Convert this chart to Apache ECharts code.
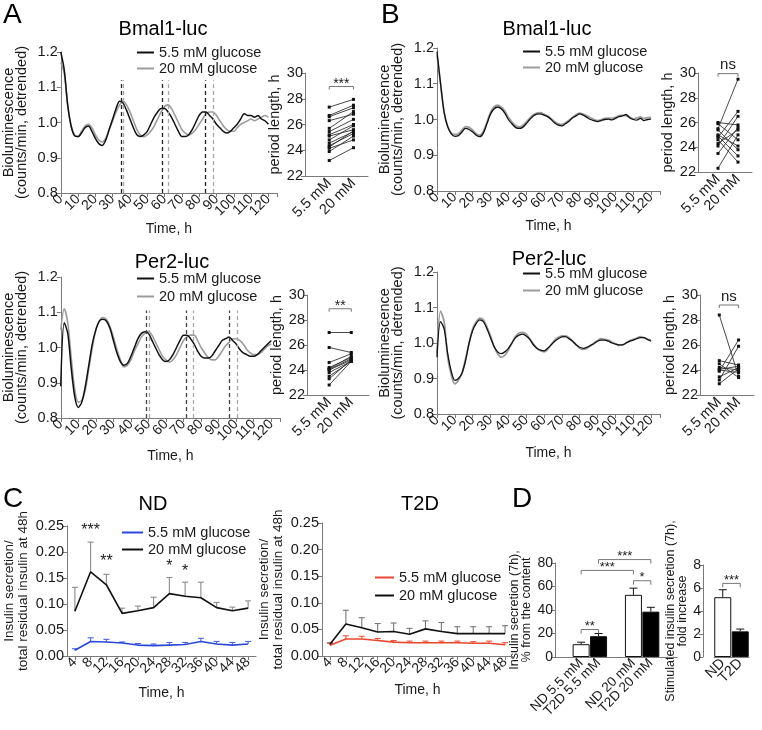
<!DOCTYPE html>
<html><head><meta charset="utf-8">
<script src="https://cdn.jsdelivr.net/npm/echarts@6/dist/echarts.min.js"></script>
<style>html,body{margin:0;padding:0;background:#fff}#c{width:762px;height:730px}</style>
</head><body><div id="c"></div>
<script>
// ---------------- DATA ----------------
const timeH = [0,2,4,6,8,10,12,14,16,18,20,22,24,26,28,30,32,34,36,38,40,42,44,46,48,50,52,54,56,58,60,62,64,66,68,70,72,74,76,78,80,82,84,86,88,90,92,94,96,98,100,102,104,106,108,110,112,114,116,118,120];
const timeTicks = [0,10,20,30,40,50,60,70,80,90,100,110,120];
const timeMax = 125;

// Panel A, Bmal1-luc
const aBmal55 = [1.20,1.15,1.05,0.99,0.962,0.96,0.97,0.985,0.99,0.975,
 0.955,0.94,0.935,0.95,0.98,1.01,1.04,1.06,1.055,1.035,
 1.01,0.985,0.965,0.96,0.965,0.975,0.995,1.015,1.03,1.04,
 1.04,1.03,1.015,0.995,0.975,0.96,0.96,0.965,0.98,1.0,
 1.02,1.03,1.03,1.02,1.01,0.995,0.985,0.975,0.97,0.975,
 0.985,0.995,1.01,1.025,1.02,1.02,1.015,1.02,1.01,1.005,
 0.995];
const aBmal20 = [1.17,1.14,1.05,0.99,0.965,0.96,0.975,0.99,0.995,0.985,
 0.965,0.95,0.945,0.955,0.98,1.005,1.03,1.05,1.06,1.05,
 1.03,1.005,0.98,0.965,0.96,0.965,0.975,0.99,1.01,1.03,
 1.045,1.05,1.04,1.02,1.0,0.98,0.97,0.965,0.97,0.98,
 0.995,1.01,1.025,1.03,1.03,1.02,1.005,0.99,0.98,0.975,
 0.975,0.985,0.995,1.0,1.005,1.01,1.005,1.01,1.015,1.02,
 1.015];
const aBmalPeaks55 = [34.7, 58.6, 83.6];
const aBmalPeaks20 = [36.1, 62.3, 88.3];

// Panel A, Per2-luc
const aPer55 = [0.89,1.07,1.04,0.94,0.86,0.83,0.845,0.89,0.95,1.01,
 1.05,1.075,1.08,1.075,1.055,1.02,0.985,0.96,0.95,0.955,
 0.975,1.0,1.025,1.04,1.045,1.04,1.02,1.0,0.98,0.965,
 0.96,0.965,0.98,1.0,1.02,1.035,1.035,1.025,1.01,0.99,
 0.975,0.97,0.97,0.975,0.99,1.005,1.02,1.025,1.03,1.02,
 1.01,0.995,0.985,0.98,0.975,0.975,0.98,0.99,1.0,1.01,
 1.02];
const aPer20 = [1.05,1.11,1.07,0.97,0.88,0.845,0.85,0.88,0.94,1.0,
 1.05,1.075,1.085,1.08,1.06,1.03,0.995,0.965,0.945,0.95,
 0.965,0.99,1.01,1.03,1.04,1.045,1.035,1.015,0.995,0.975,
 0.965,0.958,0.965,0.98,1.0,1.02,1.03,1.035,1.035,1.02,
 1.0,0.985,0.972,0.965,0.965,0.975,0.99,1.005,1.015,1.025,
 1.025,1.02,1.01,0.995,0.985,0.98,0.98,0.985,0.995,1.005,
 1.01];
const aPerPeaks55 = [48.8, 71.4, 96.1];
const aPerPeaks20 = [50.5, 75.5, 100.8];

// Panel B, Bmal1-luc
const bBmal55 = [1.19,1.10,1.02,0.98,0.96,0.953,0.955,0.965,0.975,0.972,
 0.965,0.956,0.952,0.962,0.988,1.015,1.03,1.035,1.03,1.018,
 1.0,0.988,0.978,0.975,0.978,0.988,1.0,1.01,1.015,1.016,
 1.012,1.008,1.0,0.99,0.984,0.982,0.988,0.995,1.005,1.01,
 1.016,1.012,1.006,1.0,0.997,0.994,0.997,1.0,1.001,0.999,
 1.003,1.008,1.01,1.014,1.005,1.0,0.998,1.003,0.997,1.0,
 1.002];
const bBmal20 = [1.18,1.10,1.02,0.98,0.962,0.958,0.96,0.97,0.98,0.978,
 0.97,0.96,0.956,0.967,0.993,1.02,1.035,1.04,1.035,1.024,
 1.006,0.993,0.983,0.979,0.983,0.993,1.004,1.013,1.018,1.019,
 1.015,1.01,1.002,0.994,0.988,0.986,0.991,0.998,1.006,1.013,
 1.018,1.015,1.01,1.005,1.0,0.997,0.999,1.003,1.004,1.003,
 1.006,1.01,1.012,1.01,1.006,1.002,1.004,1.007,1.003,1.005,
 1.006];

// Panel B, Per2-luc
const bPer55 = [0.96,1.06,1.04,0.97,0.92,0.895,0.90,0.915,0.95,1.0,
 1.035,1.055,1.065,1.06,1.04,1.015,0.99,0.975,0.97,0.975,
 0.985,1.0,1.015,1.022,1.025,1.02,1.01,0.995,0.985,0.98,
 0.978,0.985,0.995,1.005,1.012,1.017,1.018,1.012,1.005,0.995,
 0.988,0.985,0.988,0.993,0.998,1.005,1.008,1.008,1.005,1.0,
 0.997,0.995,0.995,1.0,1.005,1.008,1.012,1.015,1.015,1.01,
 1.005];
const bPer20 = [0.97,1.09,1.06,0.96,0.91,0.885,0.895,0.915,0.955,1.0,
 1.04,1.06,1.07,1.065,1.045,1.02,0.99,0.97,0.96,0.965,
 0.98,1.0,1.018,1.028,1.03,1.025,1.012,0.998,0.985,0.978,
 0.975,0.982,0.995,1.008,1.016,1.02,1.02,1.015,1.005,0.995,
 0.985,0.982,0.985,0.992,1.0,1.007,1.012,1.01,1.008,1.003,
 0.998,0.993,0.995,1.0,1.006,1.01,1.014,1.018,1.015,1.01,
 1.008];

// Period length (h), paired: 5.5 mM -> 20 mM
const periodCats = ['5.5 mM', '20 mM'];
const aBmalP55 = [27.35,26.7,26.6,26.3,25.7,25.45,25.1,24.8,24.55,24.35,24.25,24.15,23.9,23.2,25.2];
const aBmalP20 = [27.95,27.5,27.3,26.8,27.0,26.4,25.6,25.9,25.45,25.3,25.5,24.8,25.1,24.2,26.0];
const aPerP55 = [27.0,25.8,24.6,24.2,24.05,24.0,23.8,23.5,23.3,22.8,24.1];
const aPerP20 = [27.0,25.4,25.3,25.0,24.9,24.8,24.7,24.7,24.8,24.7,25.1];
const bBmalP55 = [25.5,24.8,24.1,26.0,25.4,22.3,24.6,25.0,23.5,24.3,24.9,25.9];
const bBmalP20 = [29.5,26.9,26.5,25.8,23.8,25.0,22.8,24.1,25.6,25.4,23.3,24.6];
const bPerP55 = [28.4,23.9,23.2,24.75,24.5,24.2,24.05,22.9,23.45,24.0];
const bPerP20 = [23.5,26.4,25.9,24.4,23.4,24.0,24.3,24.1,24.2,23.8];
const sigAB = '***', sigAP = '**', sigBB = 'ns', sigBP = 'ns';

// Panel C
const cTimes = ['4','8','12','16','20','24','28','32','36','40','44','48'];
const nd55 = [0.011,0.028,0.027,0.025,0.021,0.020,0.021,0.022,0.028,0.023,0.021,0.023];
const nd55Err = [0.003,0.007,0.005,0.002,0.003,0.003,0.005,0.004,0.006,0.005,0.005,0.005];
const nd20 = [0.086,0.162,0.137,0.082,0.087,0.093,0.120,0.115,0.112,0.093,0.087,0.092];
const nd20Err = [0.046,0.057,0.020,0.010,0.009,0.020,0.031,0.027,0.030,0.010,0.007,0.014];
const ndSigIdx = [1,2,6,7];
const ndSigY = [0.242,0.181,0.171,0.162];
const ndSigText = ['***','**','*','*'];
const t2d55 = [0.020,0.032,0.032,0.029,0.026,0.025,0.025,0.025,0.025,0.024,0.024,0.021];
const t2d55Err = [0.004,0.006,0.005,0.004,0.003,0.003,0.003,0.003,0.003,0.003,0.004,0.004];
const t2d20 = [0.022,0.060,0.053,0.045,0.046,0.041,0.051,0.046,0.042,0.042,0.042,0.042];
const t2d20Err = [0.003,0.026,0.019,0.016,0.016,0.011,0.015,0.017,0.013,0.013,0.013,0.015];

// Panel D
const dCats = ['ND 5.5 mM','T2D 5.5 mM','ND 20 mM','T2D 20 mM'];
const dVals = [10.9,17.7,52.9,38.6];
const dErr = [1.7,2.3,5.7,3.7];
const dSigPairs = [[0,1],[0,2],[1,3],[2,3]];
const dSigY = [23.4,73.7,82.9,64.9];
const dSigText = ['**','***','***','*'];
const fCats = ['ND','T2D'];
const fVals = [5.2,2.23];
const fErr = [0.65,0.2];
const fSigY = 6.4;
const fSigText = '***';

// ---------------- HELPERS ----------------
const FONT = '"Liberation Sans", Arial, Helvetica, sans-serif';
const AX = '#7a7a7a', TXT = '#1a1a1a', BLK = '#111111', GRY = '#9c9c9c';

const grids = [
  {left:55, top:52, width:222, height:141},
  {left:305, top:73, width:63, height:103},
  {left:437, top:48, width:223, height:143},
  {left:698, top:73, width:54, height:99},
  {left:57, top:277, width:223, height:141},
  {left:307, top:295, width:62, height:100},
  {left:437, top:272, width:223, height:142},
  {left:700, top:295, width:54, height:100},
  {left:67, top:526, width:189, height:130},
  {left:322, top:523, width:191, height:133},
  {left:555, top:563, width:122, height:94},
  {left:714, top:565, width:35, height:92}
];

const axLine = {show:true, lineStyle:{color:AX, width:1}};
const axTick = {show:true, length:4, inside:false, lineStyle:{color:AX}};
const nts = (fs, lh) => ({fontSize:fs, lineHeight:lh||fs, color:TXT, fontFamily:FONT});
const lblAll = {hideOverlap:false, color:TXT, fontFamily:FONT};
// sentinel entries at the axis end (blank text) so that no real label is dropped by min/max-overlap logic
const withSentinels = (vals, end) => [end].concat(vals, [end]);

function timeX(g, gap){
  return {gridIndex:g, type:'value', min:0, max:timeMax, interval:10,
    axisLine:axLine,
    axisTick:Object.assign({customValues:withSentinels(timeTicks, timeMax)}, axTick),
    axisLabel:Object.assign({customValues:withSentinels(timeTicks, timeMax), showMinLabel:false, showMaxLabel:false,
      formatter:v => (timeTicks.indexOf(v) >= 0 ? String(v) : ' '), rotate:45, margin:4, fontSize:14}, lblAll),
    splitLine:{show:false}, name:'Time, h', nameLocation:'middle', nameGap:gap, nameTextStyle:nts(14)};
}
function bioY(g){
  return {gridIndex:g, type:'value', min:0.8, max:1.2, interval:0.1,
    axisLine:axLine, axisTick:axTick,
    axisLabel:Object.assign({formatter:v => v.toFixed(1), fontSize:14.5, margin:3, showMinLabel:true, showMaxLabel:true}, lblAll),
    splitLine:{show:false}, name:'Bioluminescence\n(counts/min, detrended)', nameLocation:'middle', nameGap:32, nameTextStyle:nts(14.5, 13.5)};
}
function dotX(g, M){
  return {gridIndex:g, type:'value', min:0, max:M, interval:0.5,
    axisLine:axLine, axisTick:{show:false},
    axisLabel:Object.assign({customValues:withSentinels([0.5, 1], M), showMinLabel:false, showMaxLabel:false,
      formatter:v => (Math.abs(v - 0.5) < 1e-6 ? periodCats[0] : (Math.abs(v - 1) < 1e-6 ? periodCats[1] : ' ')), rotate:45, margin:5, fontSize:14.5}, lblAll),
    splitLine:{show:false}};
}
function dotY(g){
  return {gridIndex:g, type:'value', min:22, max:30, interval:2,
    axisLine:axLine, axisTick:axTick,
    axisLabel:Object.assign({fontSize:14.5, margin:2, showMinLabel:true, showMaxLabel:true}, lblAll),
    splitLine:{show:false}, name:'period length, h', nameLocation:'middle', nameGap:18, nameTextStyle:nts(14.5)};
}
function catX(g, cats, gap, fs, ticks){
  return {gridIndex:g, type:'category', data:cats, boundaryGap:true,
    axisLine:axLine, axisTick:ticks ? {show:true, alignWithLabel:true, length:4, lineStyle:{color:AX}} : {show:false},
    axisLabel:Object.assign({interval:0, rotate:45, margin:4, fontSize:fs}, lblAll),
    splitLine:{show:false}, name: gap ? 'Time, h' : '', nameLocation:'middle', nameGap:gap || 0, nameTextStyle:nts(14)};
}
function insY(g){
  return {gridIndex:g, type:'value', min:0, max:0.25, interval:0.05,
    axisLine:axLine, axisTick:axTick,
    axisLabel:Object.assign({formatter:v => v.toFixed(2), fontSize:14.5, margin:3, showMinLabel:true, showMaxLabel:true}, lblAll),
    splitLine:{show:false}, name:'Insulin secretion/\ntotal residual insulin at 48h', nameLocation:'middle', nameGap:37, nameTextStyle:nts(13.5, 14)};
}

function lineS(name, g, arr, color, width, peaks, top, dashColor){
  const s = {name, type:'line', xAxisIndex:g, yAxisIndex:g, color, showSymbol:false, symbol:'none', smooth:0.3,
    lineStyle:{color, width}, data: timeH.map((t,i) => [t, arr[i]]), silent:true, z:3};
  if (peaks) {
    s.markLine = {silent:true, symbol:['none','none'], label:{show:false},
      lineStyle:{type:[4,3], color:dashColor, width:1.3},
      data: peaks.map(p => [{coord:[p, 0.8]}, {coord:[p, top]}])};
  }
  return s;
}

function pairS(g, a, b){
  return {type:'custom', xAxisIndex:g, yAxisIndex:g, silent:true, z:4,
    encode:{x:[0,2], y:[1,3]},
    data: a.map((v,i) => [0.5, v, 1, b[i]]),
    renderItem:(params, api) => {
      const p1 = api.coord([api.value(0), api.value(1)]);
      const p2 = api.coord([api.value(2), api.value(3)]);
      const s = 3;
      return {type:'group', children:[
        {type:'line', shape:{x1:p1[0], y1:p1[1], x2:p2[0], y2:p2[1]}, style:{stroke:'#333', lineWidth:0.9}},
        {type:'rect', shape:{x:p1[0]-s/2, y:p1[1]-s/2, width:s, height:s}, style:{fill:'#111'}},
        {type:'rect', shape:{x:p2[0]-s/2, y:p2[1]-s/2, width:s, height:s}, style:{fill:'#111'}}
      ]};
    }};
}

function bracketS(g, items, texts, fs, tip){
  return {type:'custom', xAxisIndex:g, yAxisIndex:g, silent:true, z:6,
    encode:{x:[0,2], y:1}, data:items,
    renderItem:(params, api) => {
      const a = api.coord([api.value(0), api.value(1)]);
      const b = api.coord([api.value(2), api.value(1)]);
      const t = texts[params.dataIndex];
      const ty = t === 'ns' ? a[1] - 1 : a[1] - 5 + 0.66 * fs;
      return {type:'group', children:[
        {type:'polyline', shape:{points:[[a[0], a[1]+tip], [a[0], a[1]], [b[0], b[1]], [b[0], b[1]+tip]]}, style:{stroke:'#777', lineWidth:1, fill:'none'}},
        {type:'text', style:{text:t, x:(a[0]+b[0])/2, y:ty, align:'center', verticalAlign:'bottom', fontSize:fs, fontFamily:FONT, fill:TXT}}
      ]};
    }};
}

function errS(g, idx, means, errs, color, cap, width){
  return {type:'custom', xAxisIndex:g, yAxisIndex:g, silent:true, z:2,
    encode:{x:0, y:[1,2]},
    data: means.map((m,i) => [idx[i], m, m + errs[i]]),
    renderItem:(params, api) => {
      const p0 = api.coord([api.value(0), api.value(1)]);
      const p1 = api.coord([api.value(0), api.value(2)]);
      return {type:'group', children:[
        {type:'line', shape:{x1:p0[0], y1:p0[1], x2:p1[0], y2:p1[1]}, style:{stroke:color, lineWidth:width}},
        {type:'line', shape:{x1:p1[0]-cap/2, y1:p1[1], x2:p1[0]+cap/2, y2:p1[1]}, style:{stroke:color, lineWidth:width}}
      ]};
    }};
}

function textS(g, idx, ys, texts, fs){
  return {type:'custom', xAxisIndex:g, yAxisIndex:g, silent:true, z:6,
    encode:{x:0, y:1}, data: idx.map((x,i) => [x, ys[i]]),
    renderItem:(params, api) => {
      const p = api.coord([api.value(0), api.value(1)]);
      return {type:'text', style:{text:texts[params.dataIndex], x:p[0], y:p[1], align:'center', verticalAlign:'middle', fontSize:fs, fontFamily:FONT, fill:TXT}};
    }};
}

function leg(names, left, top, gap, w, h){
  return {left, top, orient:'vertical', padding:0, itemGap:gap, itemWidth:w, itemHeight:h || 2, icon:'rect',
    selectedMode:false, data:names,
    formatter: n => (n.endsWith('55') ? '5.5 mM glucose' : '20 mM glucose'),
    textStyle:{fontSize:14.5, lineHeight:14, color:TXT, fontFamily:FONT}};
}

function ttl(text, left, top, fs, center){
  return {text, left, top, padding:0, textAlign: center ? 'center' : 'left',
    textStyle:{fontSize:fs, fontWeight:'normal', color:'#000', fontFamily:FONT}};
}

// D axis categories with spacer slots
const dAxisCats = ['', dCats[0], dCats[1], ' ', dCats[2], dCats[3], '  '];
const dIdx = [1, 2, 4, 5];
const dBarData = dAxisCats.map(() => '-');
dIdx.forEach((k, i) => {
  const nd = dCats[i].startsWith('ND');
  dBarData[k] = {value: dVals[i], itemStyle:{color: nd ? '#ffffff' : '#000000', borderColor:'#111', borderWidth:1}};
});
const fBarData = fCats.map((c, i) => ({value: fVals[i], itemStyle:{color: c === 'ND' ? '#ffffff' : '#000000', borderColor:'#111', borderWidth:1}}));

const option = {
  animation:false,
  backgroundColor:'#ffffff',
  textStyle:{fontFamily:FONT},
  title:[
    ttl('A', 3, 1, 28), ttl('B', 381, 1, 28), ttl('C', 3, 485, 28), ttl('D', 512, 485, 28),
    ttl('Bmal1-luc', 163, 19, 20, true), ttl('Bmal1-luc', 547, 19, 20, true),
    ttl('Per2-luc', 172, 252, 20, true), ttl('Per2-luc', 549, 249, 20, true),
    ttl('ND', 153, 494, 20, true), ttl('T2D', 420, 494, 20, true)
  ],
  legend:[
    leg(['aB55','aB20'], 137, 45, 1, 17),
    leg(['aP55','aP20'], 137, 271, 3, 17),
    leg(['bB55','bB20'], 523, 44, 1, 17),
    leg(['bP55','bP20'], 523, 266, 2, 17),
    leg(['nd55','nd20'], 122, 525, 2, 21),
    leg(['t55','t20'], 375, 570, 3, 19)
  ],
  grid: grids.map(g => Object.assign({containLabel:false}, g)),
  xAxis:[
    timeX(0, 29), dotX(1, 1.3), timeX(2, 25), dotX(3, 1.35),
    timeX(4, 31), dotX(5, 1.4), timeX(6, 32), dotX(7, 1.4),
    catX(8, cTimes, 30, 14, true), catX(9, cTimes, 27, 14, true),
    catX(10, dAxisCats, 0, 13.5, false), catX(11, fCats, 0, 14.5, false)
  ],
  yAxis:[
    bioY(0), dotY(1), bioY(2), dotY(3), bioY(4), dotY(5), bioY(6), dotY(7),
    insY(8), insY(9),
    {gridIndex:10, type:'value', min:0, max:80, interval:20, axisLine:axLine, axisTick:axTick,
      axisLabel:Object.assign({fontSize:14, margin:2, showMinLabel:true, showMaxLabel:true}, lblAll), splitLine:{show:false},
      name:'Insulin secretion (7h),\n% from the content', nameLocation:'middle', nameGap:18, nameTextStyle:nts(12.5, 12.5)},
    {gridIndex:11, type:'value', min:0, max:8, interval:2, offset:11, axisLine:axLine, axisTick:axTick,
      axisLabel:Object.assign({fontSize:14, margin:2, showMinLabel:true, showMaxLabel:true}, lblAll), splitLine:{show:false},
      name:'Stimulated insulin secretion (7h),\nfold increase', nameLocation:'middle', nameGap:10, nameTextStyle:nts(12.5, 12.5)}
  ],
  series:[
    // A Bmal1
    lineS('aB20', 0, aBmal20, GRY, 1.6, aBmalPeaks20, 1.12, '#a8a8a8'),
    lineS('aB55', 0, aBmal55, BLK, 1.5, aBmalPeaks55, 1.12, '#222'),
    pairS(1, aBmalP55, aBmalP20),
    bracketS(1, [[0.5, 28.95, 1]], [sigAB], 14, 3),
    // B Bmal1
    lineS('bB20', 2, bBmal20, GRY, 1.8),
    lineS('bB55', 2, bBmal55, BLK, 1.3),
    pairS(3, bBmalP55, bBmalP20),
    bracketS(3, [[0.5, 29.95, 1]], [sigBB], 15, 3),
    // A Per2
    lineS('aP20', 4, aPer20, GRY, 1.6, aPerPeaks20, 1.105, '#a8a8a8'),
    lineS('aP55', 4, aPer55, BLK, 1.5, aPerPeaks55, 1.105, '#444'),
    pairS(5, aPerP55, aPerP20),
    bracketS(5, [[0.5, 28.9, 1]], [sigAP], 14, 3),
    // B Per2
    lineS('bP20', 6, bPer20, GRY, 1.8),
    lineS('bP55', 6, bPer55, BLK, 1.3),
    pairS(7, bPerP55, bPerP20),
    bracketS(7, [[0.5, 29.2, 1]], [sigBP], 15, 3),
    // C ND
    errS(8, cTimes.map((c,i) => i), nd20, nd20Err, '#8a8a8a', 6, 1.1),
    errS(8, cTimes.map((c,i) => i), nd55, nd55Err, '#4a66dd', 6, 1.1),
    {name:'nd55', type:'line', xAxisIndex:8, yAxisIndex:8, color:'#2a48d8', lineStyle:{color:'#2a48d8', width:1.6}, showSymbol:false, symbol:'none', data:nd55, z:3},
    {name:'nd20', type:'line', xAxisIndex:8, yAxisIndex:8, color:BLK, lineStyle:{color:BLK, width:1.6}, showSymbol:false, symbol:'none', data:nd20, z:3},
    textS(8, ndSigIdx, ndSigY, ndSigText, 16),
    // C T2D
    errS(9, cTimes.map((c,i) => i), t2d20, t2d20Err, '#777', 6, 1.1),
    errS(9, cTimes.map((c,i) => i), t2d55, t2d55Err, '#e8583e', 6, 1.1),
    {name:'t55', type:'line', xAxisIndex:9, yAxisIndex:9, color:'#e8472e', lineStyle:{color:'#e8472e', width:1.6}, showSymbol:false, symbol:'none', data:t2d55, z:3},
    {name:'t20', type:'line', xAxisIndex:9, yAxisIndex:9, color:BLK, lineStyle:{color:BLK, width:1.6}, showSymbol:false, symbol:'none', data:t2d20, z:3},
    // D left
    {type:'bar', xAxisIndex:10, yAxisIndex:10, barWidth:17, data:dBarData, silent:true, z:2},
    errS(10, dIdx, dVals, dErr, '#111', 8, 1),
    bracketS(10, dSigPairs.map((p,i) => [dIdx[p[0]], dSigY[i], dIdx[p[1]]]), dSigText, 13, 4),
    // D right
    {type:'bar', xAxisIndex:11, yAxisIndex:11, barWidth:17, data:fBarData, silent:true, z:2},
    errS(11, [0,1], fVals, fErr, '#111', 8, 1),
    bracketS(11, [[0, fSigY, 1]], [fSigText], 13, 4)
  ]
};

const chart = echarts.init(document.getElementById('c'), null, {renderer:'canvas'});
chart.setOption(option);
</script>
</body></html>
